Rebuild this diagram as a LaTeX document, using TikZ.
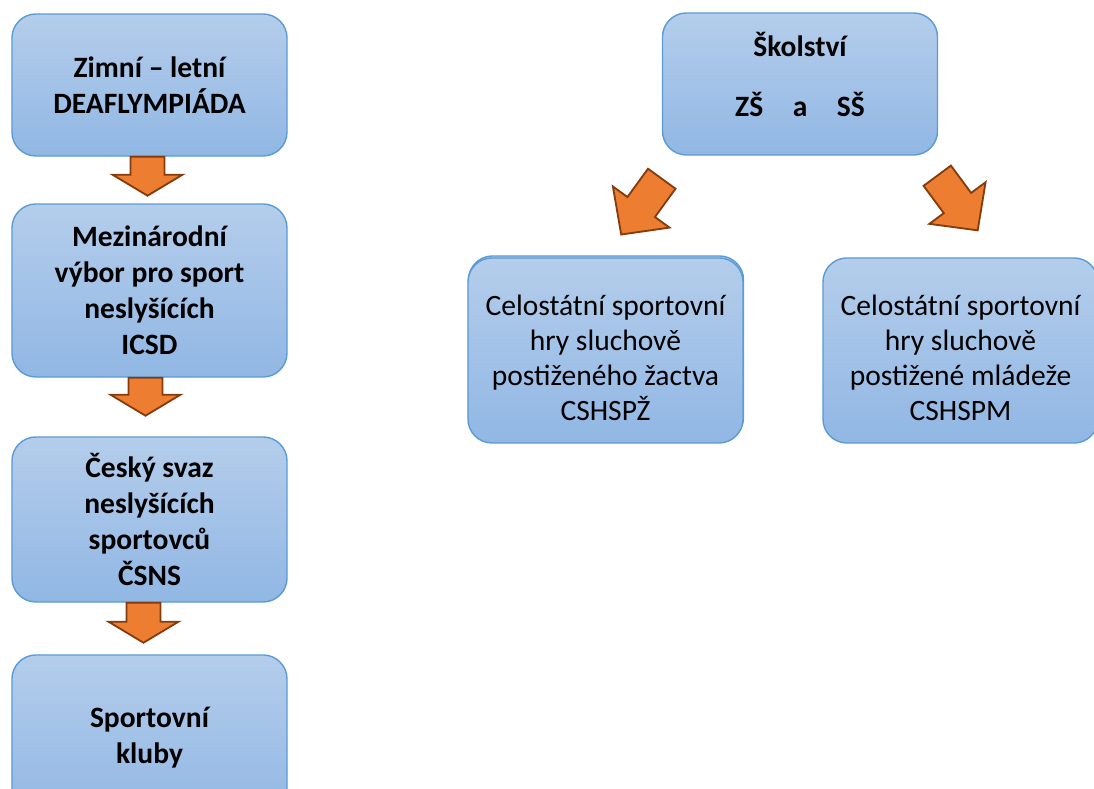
\documentclass[tikz,border=0pt]{standalone}
\usepackage{fontspec}
\setmainfont{Carlito}
\usetikzlibrary{calc}
\definecolor{boxtop}{RGB}{180,205,235}
\definecolor{boxbottom}{RGB}{145,183,228}
\definecolor{boxline}{RGB}{91,155,213}
\definecolor{arrfill}{RGB}{237,125,49}
\definecolor{arrline}{RGB}{132,60,12}
\tikzset{
  box/.style={draw=boxline, line width=1pt, rounded corners=0.6cm,
    top color=boxtop, bottom color=boxbottom, align=center,
    minimum width=6.875cm, font=\fontsize{21}{25}\selectfont},
  bbox/.style={box, font=\fontsize{21}{25.5}\selectfont\bfseries},
  arr/.style={fill=arrfill, draw=arrline, line width=1.3pt}
}
% block arrow: start, direction, length, head length
\newcommand{\blockarrow}[4]{%
  \draw[arr, shift={#1}, rotate=#2] (0,-17) -- ({#3-#4},-17) -- ({#3-#4},-35)
    -- (#3,0) -- ({#3-#4},35) -- ({#3-#4},17) -- (0,17) -- cycle;}

\begin{document}
\begin{tikzpicture}[x=0.025cm, y=0.025cm]
  \useasboundingbox (0,0) rectangle (1094,789);
  \clip (0,0) rectangle (1094,789);
  % left column
  \node[bbox, minimum height=3.55cm] (zimni) at (149.5,704) {Zimní – letní\\DEAFLYMPIÁDA};
  \node[bbox, minimum height=4.325cm] (icsd) at (149.5,498.5) {Mezinárodní\\výbor pro sport\\neslyšících\\ICSD};
  \node[bbox, minimum height=4.125cm] (csns) at (149.5,269.5) {Český svaz\\neslyšících\\sportovců\\ČSNS};
  \node[bbox, minimum height=4.125cm] (kluby) at (149.5,51.5) {Sportovní\\kluby};
  \blockarrow{($(zimni.south)+(-2,0)$)}{-90}{39}{21}
  \blockarrow{($(icsd.south)+(-4,0)$)}{-90}{38}{21}
  \blockarrow{($(csns.south)+(-6,0)$)}{-90}{40}{21}
  % right part
  \node[bbox, minimum height=3.55cm] (skolstvi) at (800,705) {Školství\\[0.6cm]ZŠ\quad a\quad SŠ\\[-12pt]\mbox{}};
  \node[box, minimum height=4.625cm] (zactvoback) at (606,440.5) {};
  \node[box, minimum height=4.625cm] (zactvo) at (605.5,438.5) {\rule{0pt}{25pt}Celostátní sportovní\\hry sluchově\\postiženého žactva\\CSHSPŽ};
  \node[box, minimum height=4.625cm] (mladez) at (960.5,438.5) {\rule{0pt}{25pt}Celostátní sportovní\\hry sluchově\\postižené mládeže\\CSHSPM};
  \blockarrow{($(skolstvi.south west)+(0,-23)$)}{-126}{69}{34}
  \blockarrow{($(skolstvi.south east)+(-1,-20)$)}{-53.5}{68}{34}
\end{tikzpicture}
\end{document}
